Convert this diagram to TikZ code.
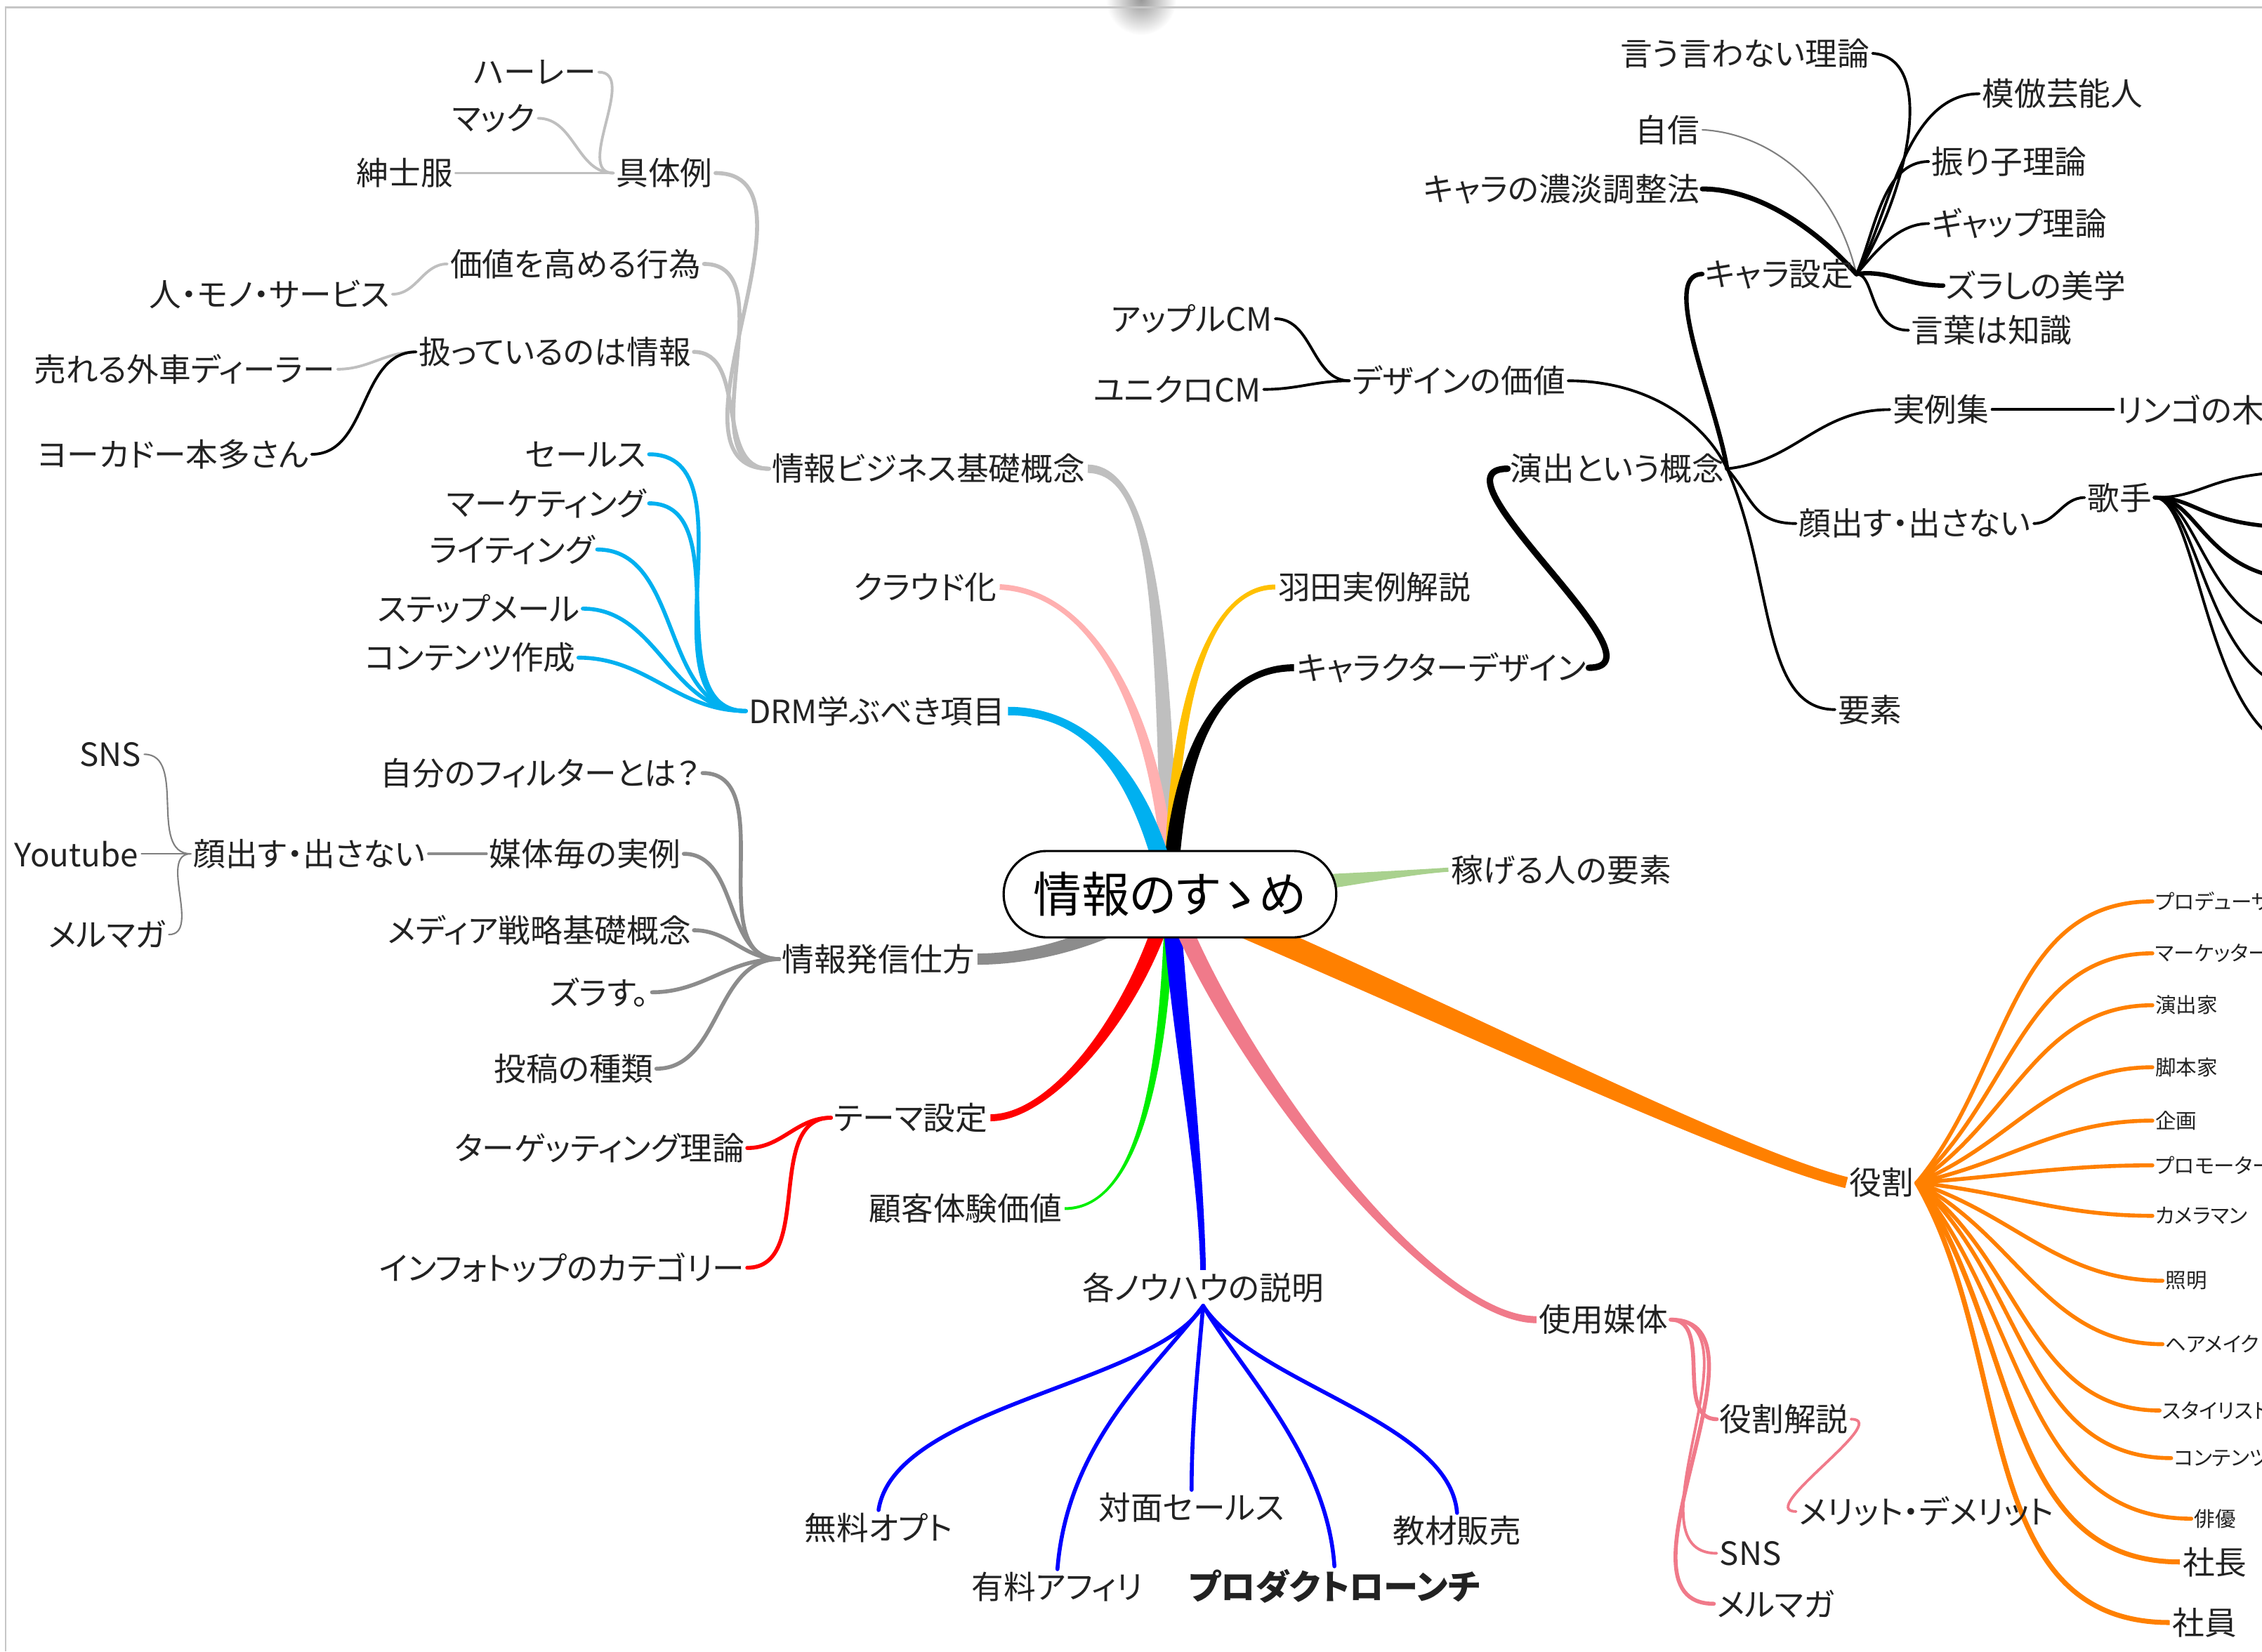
\documentclass[tikz,border=0pt]{standalone}
\usepackage{fontspec}
\setmainfont{Noto Sans CJK JP}[RawFeature=+palt]
\usetikzlibrary{calc,shapes.misc,backgrounds}
\definecolor{cgrayl}{HTML}{BFBFBF}
\definecolor{cpinkl}{HTML}{FFB0B0}
\definecolor{cyel}{HTML}{FFC000}
\definecolor{ccyan}{HTML}{00B0F0}
\definecolor{cgreenl}{HTML}{A9D18E}
\definecolor{cgrayd}{HTML}{8C8C8C}
\definecolor{cred}{HTML}{FF0000}
\definecolor{cgreen}{HTML}{00EE00}
\definecolor{cblue}{HTML}{0000FF}
\definecolor{cpink}{HTML}{F07A8A}
\definecolor{corange}{HTML}{FF8000}
\definecolor{ctext}{HTML}{222222}
\newcommand{\taperbr}[7]{%
  \coordinate (tpA) at ($(#2)!#6!90:(#3)$);
  \coordinate (tpB) at ($(#2)!#6!-90:(#3)$);
  \coordinate (tpC) at ($(#5)!#7!-90:(#4)$);
  \coordinate (tpD) at ($(#5)!#7!90:(#4)$);
  \fill[#1] (tpA) .. controls ($(#3)+(tpA)-(#2)$) and ($(#4)+(tpC)-(#5)$) .. (tpC) -- (tpD) .. controls ($(#4)+(tpD)-(#5)$) and ($(#3)+(tpB)-(#2)$) .. (tpB) -- cycle;
}
\tikzset{
  lbl/.style={font=\fontsize{13}{15}\selectfont, inner sep=1pt, text=ctext},
  sml/.style={font=\fontsize{8.4}{10}\selectfont, inner sep=1pt, text=ctext},
  rootbox/.style={rounded rectangle, draw, line width=0.9pt, fill=white, minimum width=4.97cm, minimum height=1.23cm, font=\fontsize{19.5}{22}\selectfont, text=black},
  sub/.style={line width=1.6pt, line cap=round},
  thn/.style={line width=1.1pt, line cap=round},
  hair/.style={line width=0.6pt, line cap=round},
}
\begin{document}
\begin{tikzpicture}[x=0.02054cm, y=-0.02054cm]
\useasboundingbox (0,0) rectangle (1568,1145);

% ---------- nodes ----------
\node[rootbox] (root) at (811,620) {情報のすゝめ};

% light gray group
\node[lbl,anchor=west] (jbk) at (533,325) {情報ビジネス基礎概念};
\node[lbl,anchor=east] (gutai) at (496,120) {具体例};
\node[lbl,anchor=east] (harley) at (415,50) {ハーレー};
\node[lbl,anchor=east] (mac) at (373,82) {マック};
\node[lbl,anchor=east] (shinshi) at (316,120) {紳士服};
\node[lbl,anchor=east] (kachi) at (488,183) {価値を高める行為};
\node[lbl,anchor=east] (hito) at (272,204) {人・モノ・サービス};
\node[lbl,anchor=east] (atsu) at (481,244) {扱っているのは情報};
\node[lbl,anchor=east] (ureru) at (234,256) {売れる外車ディーラー};
\node[lbl,anchor=east] (yoka) at (216,315) {ヨーカドー本多さん};

% cyan group
\node[lbl,anchor=west] (drm) at (517,493) {DRM学ぶべき項目};
\node[lbl,anchor=east] (sales) at (450,315) {セールス};
\node[lbl,anchor=east] (mkt) at (450,349) {マーケティング};
\node[lbl,anchor=east] (writing) at (414,381) {ライティング};
\node[lbl,anchor=east] (stepm) at (404,422) {ステップメール};
\node[lbl,anchor=east] (content) at (401,456) {コンテンツ作成};

\node[lbl,anchor=east] (cloud) at (693,407) {クラウド化};
\node[lbl,anchor=west] (haneda) at (884,407) {羽田実例解説};
\node[lbl,anchor=west] (kdesign) at (897,463) {キャラクターデザイン};
\node[lbl,anchor=west] (kaseg) at (1004,603) {稼げる人の要素};

% dark gray group
\node[lbl,anchor=west] (hasshin) at (540,665) {情報発信仕方};
\node[lbl,anchor=east] (filter) at (487,536) {自分のフィルターとは？};
\node[lbl,anchor=east] (baitai) at (474,592) {媒体毎の実例};
\node[lbl,anchor=east] (media) at (481,645) {メディア戦略基礎概念};
\node[lbl,anchor=east] (zurasu) at (452,688) {ズラす。};
\node[lbl,anchor=east] (toukou) at (455,741) {投稿の種類};
\node[lbl,anchor=east] (kaodashi) at (297,592) {顔出す・出さない};
\node[lbl,anchor=east] (sns1) at (100,523) {SNS};
\node[lbl,anchor=east] (yt) at (98,592) {Youtube};
\node[lbl,anchor=east] (mm1) at (117,648) {メルマガ};

% red group
\node[lbl,anchor=west] (theme) at (576,775) {テーマ設定};
\node[lbl,anchor=east] (target) at (518,796) {ターゲッティング理論};
\node[lbl,anchor=east] (infotop) at (518,879) {インフォトップのカテゴリー};

\node[lbl,anchor=east] (kokyaku) at (738,838) {顧客体験価値};

% blue group
\node[lbl] (knowhow) at (834,893) {各ノウハウの説明};
\node[lbl,anchor=north] (muryo) at (609,1047) {無料オプト};
\node[lbl,anchor=north] (yuryo) at (733,1088) {有料アフィリ};
\node[lbl,anchor=north] (taimen) at (826,1033) {対面セールス};
\node[lbl,anchor=north,font=\fontsize{14}{16}\selectfont\bfseries] (launch) at (925,1086) {プロダクトローンチ};
\node[lbl,anchor=north] (kyozai) at (1010,1049) {教材販売};

% pink group
\node[lbl,anchor=west] (shiyo) at (1065,915) {使用媒体};
\node[lbl,anchor=west] (yakkai) at (1190,984) {役割解説};
\node[lbl,anchor=west] (merit) at (1245,1048) {メリット・デメリット};
\node[lbl,anchor=west] (sns2) at (1190,1077) {SNS};
\node[lbl,anchor=west] (mm2) at (1188,1112) {メルマガ};

% orange group
\node[lbl,anchor=west] (yaku) at (1280,820) {役割};
\node[sml,anchor=west] (o1) at (1492,625) {プロデューサー};
\node[sml,anchor=west] (o2) at (1492,661) {マーケッター};
\node[sml,anchor=west] (o3) at (1492,697) {演出家};
\node[sml,anchor=west] (o4) at (1492,740) {脚本家};
\node[sml,anchor=west] (o5) at (1492,777) {企画};
\node[sml,anchor=west] (o6) at (1492,808) {プロモーター};
\node[sml,anchor=west] (o7) at (1492,843) {カメラマン};
\node[sml,anchor=west] (o8) at (1499,888) {照明};
\node[sml,anchor=west] (o9) at (1499,932) {ヘアメイク};
\node[sml,anchor=west] (o10) at (1497,978) {スタイリスト};
\node[sml,anchor=west] (o11) at (1505,1011) {コンテンツ};
\node[sml,anchor=west] (o12) at (1519,1053) {俳優};
\node[lbl,anchor=west] (o13) at (1511,1083) {社長};
\node[lbl,anchor=west] (o14) at (1504,1125) {社員};

% black group
\node[lbl,anchor=west] (enshutsu) at (1045,325) {演出という概念};
\node[lbl,anchor=west] (chara) at (1180,190) {キャラ設定};
\node[lbl,anchor=east] (dkachi) at (1087,264) {デザインの価値};
\node[lbl,anchor=west] (jirei) at (1310,284) {実例集};
\node[lbl,anchor=west] (ringo) at (1465,284) {リンゴの木};
\node[lbl,anchor=west] (kao2) at (1245,363) {顔出す・出さない};
\node[lbl,anchor=west] (kashu) at (1445,345) {歌手};
\node[lbl,anchor=west] (yoso) at (1272,492) {要素};
\node[lbl,anchor=east] (apple) at (884,221) {アップルCM};
\node[lbl,anchor=east] (uniqlo) at (876,270) {ユニクロCM};
\node[lbl,anchor=east] (iu) at (1298,37) {言う言わない理論};
\node[lbl,anchor=east] (jishin) at (1180,90) {自信};
\node[lbl,anchor=east] (noutan) at (1180,131) {キャラの濃淡調整法};
\node[lbl,anchor=west] (mohou) at (1372,65) {模倣芸能人};
\node[lbl,anchor=west] (furiko) at (1337,112) {振り子理論};
\node[lbl,anchor=west] (gap) at (1337,155) {ギャップ理論};
\node[lbl,anchor=west] (zurashi) at (1347,198) {ズラしの美学};
\node[lbl,anchor=west] (kotoba) at (1323,229) {言葉は知識};

\coordinate (kc1) at (1600,327);
\coordinate (kc2) at (1600,366);
\coordinate (kc3) at (1600,402);
\coordinate (kc4) at (1600,440);
\coordinate (kc5) at (1600,479);
\coordinate (kc6) at (1600,520);

% ---------- connectors ----------
\begin{pgfonlayer}{background}
\shade[inner color=gray!80, outer color=white] (791,0) circle[radius=0.5cm];
\draw[gray!45, line width=0.7pt] (4,1145) -- (4,5) -- (1568,5);

% main tapered branches
\taperbr{cgrayl}{root.center}{806,430}{800,326}{jbk.east}{0.12cm}{0.06cm}
\taperbr{cpinkl}{root.center}{805,500}{760,410}{cloud.east}{0.09cm}{0.04cm}
\taperbr{cyel}{root.center}{812,480}{840,407}{haneda.west}{0.08cm}{0.035cm}
\taperbr{black}{root.center}{815,520}{845,463}{kdesign.west}{0.11cm}{0.05cm}
\taperbr{ccyan}{root.center}{790,530}{750,493}{drm.east}{0.13cm}{0.06cm}
\taperbr{cgreenl}{root.center}{900,615}{960,606}{kaseg.west}{0.17cm}{0.03cm}
\taperbr{cgrayd}{root.center}{770,650}{720,665}{hasshin.east}{0.12cm}{0.08cm}
\taperbr{cred}{root.center}{790,700}{730,775}{theme.east}{0.11cm}{0.05cm}
\taperbr{cgreen}{root.center}{808,740}{790,838}{kokyaku.east}{0.07cm}{0.02cm}
\taperbr{cblue}{root.center}{818,720}{832,800}{knowhow.north}{0.13cm}{0.04cm}
\taperbr{cpink}{root.center}{850,730}{990,915}{shiyo.west}{0.12cm}{0.05cm}
\taperbr{corange}{root.center}{1000,700}{1200,800}{yaku.west}{0.17cm}{0.08cm}

% light gray group
\draw[sub,cgrayl] (jbk.west) to[out=180,in=0] (gutai.east);
\draw[sub,cgrayl] (jbk.west) to[out=180,in=0] (kachi.east);
\draw[sub,cgrayl] (jbk.west) to[out=180,in=0] (atsu.east);
\draw[thn,cgrayl] (gutai.west) to[out=180,in=0] (harley.east);
\draw[thn,cgrayl] (gutai.west) to[out=180,in=0] (mac.east);
\draw[thn,cgrayl] (gutai.west) -- (shinshi.east);
\draw[thn,cgrayl] (kachi.west) to[out=180,in=0] (hito.east);
\draw[thn,cgrayl] (atsu.west) to[out=180,in=0] (ureru.east);
\draw[thn,black] (atsu.west) to[out=180,in=0] (yoka.east);

% cyan group
\foreach \t in {sales,mkt,writing,stepm,content}
  \draw[sub,ccyan] (drm.west) to[out=180,in=0] (\t.east);

% dark gray group
\foreach \t in {filter,baitai,media,zurasu,toukou}
  \draw[sub,cgrayd] (hasshin.west) to[out=180,in=0] (\t.east);
\draw[thn,cgrayd] (baitai.west) -- (kaodashi.east);
\foreach \t in {sns1,yt,mm1}
  \draw[hair,gray] (kaodashi.west) to[out=180,in=0] (\t.east);

% red group
\draw[sub,cred] (theme.west) to[out=180,in=0] (target.east);
\draw[sub,cred] (theme.west) to[out=180,in=0] (infotop.east);

% blue group
\draw[sub,cblue] (knowhow.south) .. controls (800,960) and (620,975) .. (muryo.north);
\draw[sub,cblue] (knowhow.south) .. controls (800,950) and (740,1000) .. (yuryo.north);
\draw[sub,cblue] (knowhow.south) .. controls (830,950) and (826,990) .. (taimen.north);
\draw[sub,cblue] (knowhow.south) .. controls (860,950) and (920,1010) .. (launch.north);
\draw[sub,cblue] (knowhow.south) .. controls (870,960) and (1005,985) .. (kyozai.north);

% pink group
\draw[sub,cpink] (shiyo.east) to[out=0,in=180] (yakkai.west);
\draw[thn,cpink] (shiyo.east) to[out=0,in=180] (sns2.west);
\draw[sub,cpink] (shiyo.east) to[out=0,in=180] (mm2.west);
\draw[thn,cpink] (yakkai.east) to[out=0,in=180] (merit.west);

% orange group
\draw[sub,corange] (yaku.east) to[out=50,in=180] (o1.west);
\draw[sub,corange] (yaku.east) to[out=42,in=180] (o2.west);
\draw[sub,corange] (yaku.east) to[out=33,in=180] (o3.west);
\draw[sub,corange] (yaku.east) to[out=22,in=180] (o4.west);
\draw[sub,corange] (yaku.east) to[out=12,in=180] (o5.west);
\draw[sub,corange] (yaku.east) to[out=4,in=180] (o6.west);
\draw[sub,corange] (yaku.east) to[out=-6,in=180] (o7.west);
\draw[sub,corange] (yaku.east) to[out=-18,in=180] (o8.west);
\draw[sub,corange] (yaku.east) to[out=-28,in=180] (o9.west);
\draw[sub,corange] (yaku.east) to[out=-36,in=180] (o10.west);
\draw[sub,corange] (yaku.east) to[out=-42,in=180] (o11.west);
\draw[sub,corange] (yaku.east) to[out=-50,in=180] (o12.west);
\draw[line width=2pt,corange] (yaku.east) to[out=-55,in=180] (o13.west);
\draw[line width=2pt,corange] (yaku.east) to[out=-60,in=180] (o14.west);

% black group
\draw[line width=2.6pt,line cap=round] (kdesign.east) to[out=0,in=180] (enshutsu.west);
\draw[line width=1.8pt,line cap=round] (enshutsu.east) .. controls (1190,280) and (1150,190) .. (chara.west);
\draw[thn] (enshutsu.east) .. controls (1180,290) and (1140,264) .. (dkachi.east);
\draw[thn] (enshutsu.east) .. controls (1245,320) and (1260,284) .. (jirei.west);
\draw[thn] (enshutsu.east) .. controls (1215,345) and (1215,363) .. (kao2.west);
\draw[thn] (enshutsu.east) .. controls (1230,400) and (1220,492) .. (yoso.west);
\draw[thn] (jirei.east) -- (ringo.west);
\draw[thn] (kao2.east) to[out=0,in=180] (kashu.west);
\draw[thn] (kashu.east) .. controls (1530,345) and (1530,327) .. (kc1);
\draw[sub] (kashu.east) .. controls (1525,345) and (1525,366) .. (kc2);
\draw[sub] (kashu.east) .. controls (1525,345) and (1528,402) .. (kc3);
\draw[thn] (kashu.east) .. controls (1525,345) and (1530,440) .. (kc4);
\draw[thn] (kashu.east) .. controls (1525,345) and (1530,479) .. (kc5);
\draw[thn] (kashu.east) .. controls (1525,345) and (1530,520) .. (kc6);
\draw[thn] (dkachi.west) to[out=180,in=0] (apple.east);
\draw[thn] (dkachi.west) to[out=180,in=0] (uniqlo.east);
\draw[thn] (chara.east) .. controls (1320,140) and (1345,40) .. (iu.east);
\draw[hair,gray] (chara.east) .. controls (1270,120) and (1220,92) .. (jishin.east);
\draw[line width=2pt,line cap=round] (chara.east) .. controls (1260,160) and (1220,131) .. (noutan.east);
\draw[thn] (chara.east) .. controls (1310,150) and (1320,65) .. (mohou.west);
\draw[thn] (chara.east) .. controls (1300,160) and (1305,112) .. (furiko.west);
\draw[thn] (chara.east) .. controls (1300,175) and (1315,155) .. (gap.west);
\draw[line width=1.8pt,line cap=round] (chara.east) .. controls (1310,187) and (1320,198) .. (zurashi.west);
\draw[thn] (chara.east) .. controls (1300,190) and (1295,229) .. (kotoba.west);
\end{pgfonlayer}
\end{tikzpicture}
\end{document}
